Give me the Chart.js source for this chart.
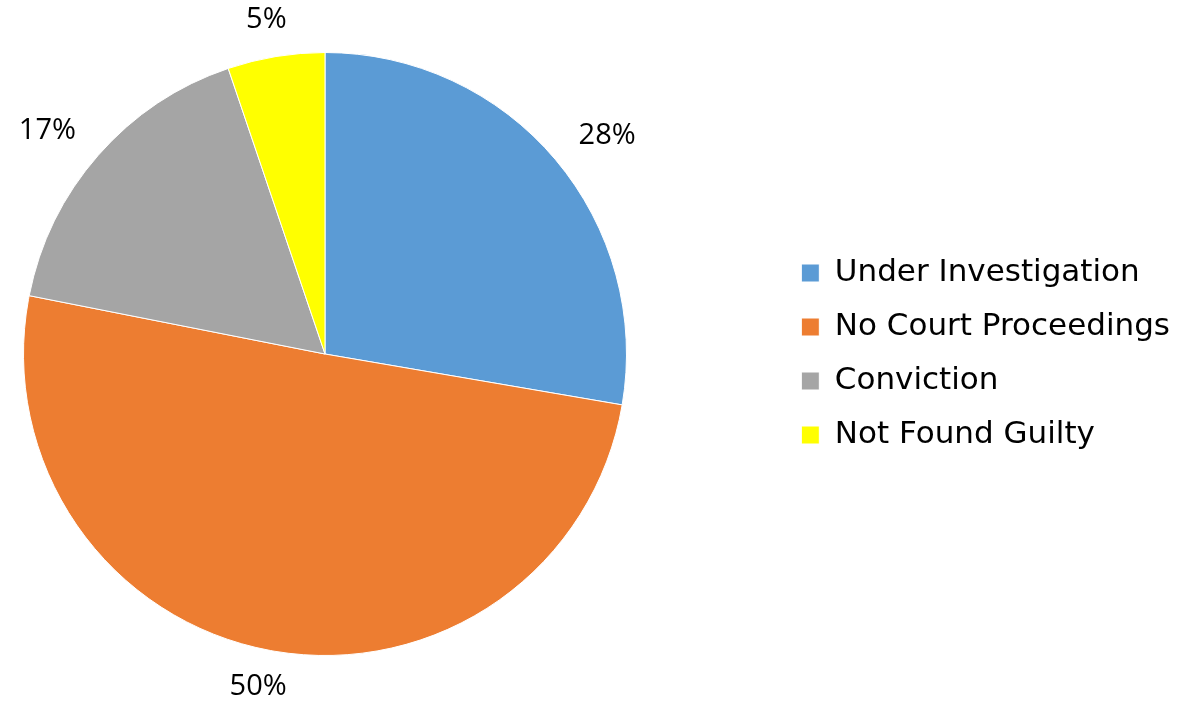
<!DOCTYPE html>
<html>
<head>
<meta charset="utf-8">
<script src="https://cdn.jsdelivr.net/npm/chart.js@4.4.0/dist/chart.umd.min.js"></script>
<style>
  html, body { margin: 0; padding: 0; background: #fff; }
  #wrap { width: 1178px; height: 704px; position: relative; }
</style>
</head>
<body>
<div id="wrap"><canvas id="pie"></canvas></div>
<script>
const categories = ['Under Investigation', 'No Court Proceedings', 'Conviction', 'Not Found Guilty'];
const shares = [27.7, 50.4, 16.7, 5.2];
const percentLabels = ['28%', '50%', '17%', '5%'];
const sliceColors = ['#5B9BD5', '#ED7D31', '#A5A5A5', '#FFFF00'];

const LABEL_FONT = "'Open Sans', sans-serif";
const LEGEND_FONT = "'DejaVu Sans', sans-serif";

// keep the pie square on the left, legend stays where layout put it
const squarePie = {
  id: 'squarePie',
  afterLayout(chart) {
    const a = chart.chartArea;
    a.right = a.left + (a.bottom - a.top);
    a.width = a.right - a.left;
  }
};

// percent labels outside each slice
const outsideLabels = {
  id: 'outsideLabels',
  afterDatasetsDraw(chart) {
    const ctx = chart.ctx;
    const meta = chart.getDatasetMeta(0);
    ctx.save();
    ctx.font = '29px ' + LABEL_FONT;
    ctx.fillStyle = '#000';
    ctx.textAlign = 'center';
    ctx.textBaseline = 'middle';
    meta.data.forEach((arc, i) => {
      const p = arc.getProps(['x', 'y', 'startAngle', 'endAngle', 'outerRadius'], true);
      const mid = (p.startAngle + p.endAngle) / 2;
      const ux = Math.cos(mid), uy = Math.sin(mid);
      const w = ctx.measureText(percentLabels[i]).width;
      const d = p.outerRadius + 23;
      ctx.fillText(percentLabels[i], p.x + d * ux + ux * (w / 2 + 16), p.y + d * uy + uy * 14);
    });
    ctx.restore();
  }
};

new Chart(document.getElementById('pie'), {
  type: 'pie',
  data: {
    labels: categories,
    datasets: [{
      data: shares,
      backgroundColor: sliceColors,
      borderColor: '#ffffff',
      borderWidth: 1
    }]
  },
  options: {
    responsive: true,
    maintainAspectRatio: false,
    animation: false,
    layout: { padding: { top: 52, bottom: 48, left: 23, right: -2 } },
    plugins: {
      legend: {
        position: 'right',
        labels: {
          font: { family: LEGEND_FONT, size: 31 },
          color: '#000',
          boxWidth: 18,
          boxHeight: 18,
          padding: 23
        }
      },
      tooltip: { enabled: false }
    }
  },
  plugins: [squarePie, outsideLabels]
});
</script>
</body>
</html>
